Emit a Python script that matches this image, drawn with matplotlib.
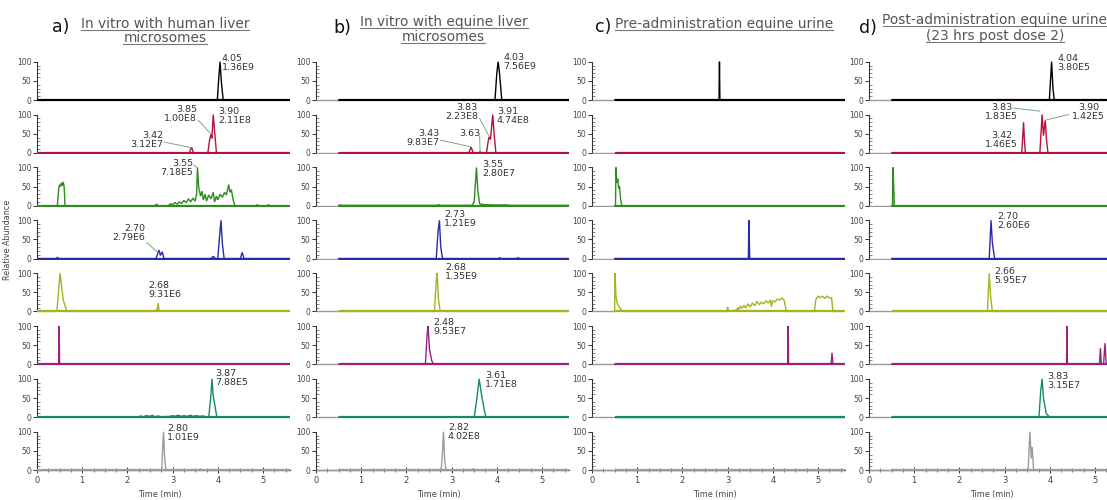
import matplotlib
matplotlib.use("Agg")
import matplotlib.pyplot as plt
from matplotlib.ticker import MultipleLocator, FixedLocator
from matplotlib.lines import Line2D

# ---------------------------------------------------------------- data
# Extracted-ion chromatograms: (time in min, relative abundance in %)

# a) in vitro, human liver microsomes
HUM_1 = [(0, 0), (3.99, 0), (4.02, 55), (4.05, 100), (4.08, 45), (4.12, 0), (5.6, 0)]
HUM_2 = [(0, 0), (3.37, 0), (3.42, 15), (3.46, 0), (3.78, 0), (3.82, 35), (3.85, 48),
         (3.87, 38), (3.90, 100), (3.93, 55), (3.97, 0), (5.6, 0)]
HUM_3 = [(0, 0), (0.45, 0), (0.48, 45), (0.50, 55), (0.52, 50), (0.54, 60), (0.56, 52),
         (0.58, 62), (0.60, 50), (0.62, 0), (2.60, 0), (2.65, 4), (2.68, 0), (2.90, 0),
         (2.95, 5), (3.00, 3), (3.05, 8), (3.10, 4), (3.15, 10), (3.20, 6), (3.25, 14),
         (3.30, 8), (3.35, 18), (3.40, 10), (3.45, 20), (3.50, 12), (3.53, 30), (3.55, 100),
         (3.58, 45), (3.62, 25), (3.65, 38), (3.68, 15), (3.72, 30), (3.75, 12), (3.80, 28),
         (3.85, 18), (3.90, 35), (3.93, 10), (3.97, 25), (4.00, 15), (4.05, 30), (4.10, 22),
         (4.15, 35), (4.19, 28), (4.24, 55), (4.27, 35), (4.30, 42), (4.34, 15), (4.38, 0),
         (4.85, 0), (4.87, 3), (4.90, 0), (5.10, 0), (5.12, 3), (5.15, 0), (5.6, 0)]
HUM_4 = [(0, 0), (0.42, 0), (0.45, 3), (0.48, 0), (2.63, 0), (2.70, 22), (2.73, 8),
         (2.77, 18), (2.81, 0), (3.85, 0), (3.90, 6), (3.95, 0), (4.00, 0), (4.04, 60),
         (4.07, 100), (4.10, 40), (4.14, 0), (4.50, 0), (4.54, 16), (4.58, 0), (5.6, 0)]
HUM_5 = [(0, 0), (0.44, 0), (0.51, 100), (0.58, 30), (0.66, 0), (2.60, 0), (2.66, 6),
         (2.68, 22), (2.70, 4), (2.74, 0), (3.0, 1), (3.5, 2), (4.0, 2), (4.5, 2),
         (5.0, 1), (5.6, 1)]
HUM_6 = [(0, 0), (0.48, 0), (0.49, 100), (0.495, 50), (0.50, 0), (5.6, 0)]
HUM_7 = [(0, 0), (2.20, 0), (2.30, 3), (2.35, 1), (2.42, 4), (2.50, 2), (2.55, 5),
         (2.60, 1), (2.68, 3), (2.75, 1), (2.95, 2), (3.00, 4), (3.05, 2), (3.12, 5),
         (3.20, 2), (3.25, 4), (3.32, 2), (3.40, 5), (3.45, 2), (3.52, 4), (3.60, 2),
         (3.68, 3), (3.75, 0), (3.80, 0), (3.85, 60), (3.87, 100), (3.90, 55), (3.95, 20),
         (3.98, 0), (5.6, 0)]
HUM_8 = [(0, 0), (2.76, 0), (2.78, 60), (2.80, 100), (2.82, 40), (2.85, 0), (3.60, 0),
         (3.62, 3), (3.64, 0), (5.6, 0)]

# b) in vitro, equine liver microsomes
EQ_1 = [(0.5, 0), (3.96, 0), (4.00, 70), (4.03, 100), (4.06, 70), (4.11, 0), (5.6, 0)]
EQ_2 = [(0.5, 0), (3.38, 0), (3.43, 15), (3.48, 0), (3.60, 0), (3.63, 3), (3.66, 0),
        (3.77, 0), (3.81, 30), (3.83, 42), (3.86, 35), (3.91, 100), (3.94, 50),
        (3.98, 0), (5.6, 0)]
EQ_3 = [(0.5, 0), (0.52, 2), (0.60, 1), (1.0, 1), (2.0, 1), (2.70, 1), (2.72, 3),
        (2.74, 1), (3.45, 1), (3.50, 10), (3.55, 100), (3.58, 40), (3.62, 5), (3.70, 3),
        (3.90, 2), (4.20, 2), (4.30, 1), (5.6, 1)]
EQ_4 = [(0.5, 0), (2.66, 0), (2.70, 70), (2.73, 100), (2.76, 30), (2.80, 0), (4.05, 0),
        (4.06, 3), (4.08, 0), (4.45, 0), (4.47, 3), (4.49, 0), (5.6, 0)]
EQ_5 = [(0.5, 0), (2.62, 0), (2.66, 80), (2.68, 100), (2.71, 30), (2.75, 0), (5.6, 0)]
EQ_6 = [(0.5, 0), (2.42, 0), (2.46, 80), (2.48, 100), (2.51, 40), (2.56, 10), (2.60, 0),
        (5.6, 0)]
EQ_7 = [(0.5, 0), (3.50, 0), (3.55, 40), (3.61, 100), (3.66, 60), (3.72, 20), (3.76, 0),
        (5.6, 0)]
EQ_8 = [(0.5, 0), (2.77, 0), (2.80, 50), (2.82, 100), (2.85, 20), (2.88, 0), (3.45, 0),
        (3.47, 4), (3.49, 0), (5.6, 0)]

# c) pre-administration equine urine
PRE_1 = [(0.5, 0), (2.81, 0), (2.82, 100), (2.825, 50), (2.83, 0), (5.6, 0)]
PRE_2 = [(0.5, 0), (5.6, 0)]
PRE_3 = [(0.5, 0), (0.52, 0), (0.53, 100), (0.55, 60), (0.57, 70), (0.59, 45),
         (0.61, 50), (0.63, 20), (0.66, 0), (5.6, 0)]
PRE_4 = [(0.5, 0), (3.46, 0), (3.47, 100), (3.48, 50), (3.49, 0), (5.6, 0)]
PRE_5 = [(0.5, 0), (0.51, 100), (0.53, 40), (0.56, 20), (0.60, 12), (0.64, 5), (0.68, 0),
         (2.98, 0), (3.00, 12), (3.02, 2), (3.20, 3), (3.22, 10), (3.25, 4), (3.28, 14),
         (3.32, 8), (3.36, 16), (3.40, 9), (3.45, 20), (3.50, 12), (3.55, 22), (3.60, 15),
         (3.65, 26), (3.70, 18), (3.75, 24), (3.80, 20), (3.85, 28), (3.90, 22), (3.95, 30),
         (3.97, 12), (4.00, 28), (4.05, 25), (4.10, 32), (4.15, 30), (4.20, 35), (4.25, 30),
         (4.30, 0), (4.92, 0), (4.95, 30), (5.00, 40), (5.05, 36), (5.10, 40), (5.15, 34),
         (5.20, 40), (5.25, 35), (5.30, 36), (5.33, 0), (5.6, 0)]
PRE_6 = [(0.5, 0), (4.33, 0), (4.34, 100), (4.345, 50), (4.35, 0), (5.29, 0), (5.31, 30),
         (5.33, 0), (5.6, 0)]
PRE_7 = [(0.5, 0), (5.6, 0)]
PRE_8 = [(0.5, 0), (5.6, 0)]

# d) post-administration equine urine (23 hrs post dose 2)
POST_1 = [(0.5, 0), (3.99, 0), (4.02, 60), (4.04, 100), (4.07, 30), (4.10, 0), (5.6, 0)]
POST_2 = [(0.5, 0), (3.38, 0), (3.40, 40), (3.42, 80), (3.44, 30), (3.46, 0), (3.78, 0),
          (3.81, 60), (3.83, 100), (3.86, 45), (3.90, 85), (3.93, 30), (3.96, 0), (5.6, 0)]
POST_3 = [(0.5, 0), (0.52, 0), (0.53, 100), (0.55, 40), (0.56, 0), (5.6, 0)]
POST_4 = [(0.5, 0), (2.66, 0), (2.70, 100), (2.73, 40), (2.78, 0), (5.6, 0)]
POST_5 = [(0.5, 0), (2.62, 0), (2.66, 100), (2.69, 40), (2.73, 0), (5.6, 0)]
POST_6 = [(0.5, 0), (4.37, 0), (4.38, 100), (4.385, 50), (4.39, 0), (5.10, 0), (5.12, 42),
          (5.14, 0), (5.19, 0), (5.22, 55), (5.25, 0), (5.6, 0)]
POST_7 = [(0.5, 0), (3.76, 0), (3.80, 70), (3.83, 100), (3.86, 50), (3.92, 10),
          (3.98, 2), (4.05, 0), (5.6, 0)]
POST_8 = [(0.5, 0), (3.52, 0), (3.56, 100), (3.59, 30), (3.61, 60), (3.64, 0), (5.6, 0)]

# Peak annotations: (row, retention time, peak area)
HUM_PEAKS = [(0, "4.05", "1.36E9"), (1, "3.85", "1.00E8"), (1, "3.90", "2.11E8"),
             (1, "3.42", "3.12E7"), (2, "3.55", "7.18E5"), (3, "2.70", "2.79E6"),
             (4, "2.68", "9.31E6"), (6, "3.87", "7.88E5"), (7, "2.80", "1.01E9")]
EQ_PEAKS = [(0, "4.03", "7.56E9"), (1, "3.83", "2.23E8"), (1, "3.91", "4.74E8"),
            (1, "3.43", "9.83E7"), (1, "3.63", None), (2, "3.55", "2.80E7"),
            (3, "2.73", "1.21E9"), (4, "2.68", "1.35E9"), (5, "2.48", "9.53E7"),
            (6, "3.61", "1.71E8"), (7, "2.82", "4.02E8")]
PRE_PEAKS = []
POST_PEAKS = [(0, "4.04", "3.80E5"), (1, "3.83", "1.83E5"), (1, "3.90", "1.42E5"),
              (1, "3.42", "1.46E5"), (3, "2.70", "2.60E6"), (4, "2.66", "5.95E7"),
              (6, "3.83", "3.15E7")]

PANEL_TITLES = [["In vitro with human liver", "microsomes"],
                ["In vitro with equine liver", "microsomes"],
                ["Pre-administration equine urine"],
                ["Post-administration equine urine", "(23 hrs post dose 2)"]]
PANEL_LETTERS = ["a)", "b)", "c)", "d)"]
X_TICKS = [0, 1, 2, 3, 4, 5]
Y_TICKS = [0, 50, 100]

# ---------------------------------------------------------------- layout
# label placement: (x, y, ha, leader line or None) in data units of each panel
HUM_LABEL_POS = [(4.09, 97, "left", None),
                 (3.54, 102, "right", ((3.57, 85), (3.84, 50))),
                 (4.00, 97, "left", None),
                 (2.79, 34, "right", ((2.81, 28), (3.41, 14))),
                 (3.45, 98, "right", ((3.47, 106), (3.54, 100))),
                 (2.39, 67, "right", ((2.43, 42), (2.69, 14))),
                 (2.46, 56, "left", None),
                 (3.94, 102, "left", None),
                 (2.88, 97, "left", None)]
EQ_LABEL_POS = [(4.14, 99, "left", None),
                (3.58, 107, "right", ((3.62, 90), (3.82, 45))),
                (4.00, 97, "left", None),
                (2.74, 39, "right", ((2.76, 33), (3.42, 16))),
                (3.63, 51, "right", ((3.62, 44), (3.63, 4))),
                (3.67, 96, "left", None),
                (2.83, 103, "left", None),
                (2.85, 103, "left", None),
                (2.59, 97, "left", None),
                (3.74, 97, "left", None),
                (2.92, 99, "left", None)]
PRE_LABEL_POS = []
POST_LABEL_POS = [(4.16, 97, "left", None),
                  (3.30, 107, "right", ((3.19, 117), (3.78, 109))),
                  (5.22, 107, "right", ((4.42, 100), (3.92, 86))),
                  (3.30, 34, "right", None),
                  (2.83, 98, "left", None),
                  (2.77, 92, "left", None),
                  (3.94, 94, "left", None)]

W, H = 1107, 500
PX_PER_MIN = 45.2
PX_PER_PCT = 0.383
ROW_BASE = [100 + 52.86 * i for i in range(8)]
COL_X0 = [37, 316, 592, 869]
X_SPAN = 5.6
Y_LO, Y_HI = -4, 134.4

COLORS = ["#000000", "#b5123a", "#2e8b1e", "#2a2aa8",
          "#a6b222", "#9c1f7e", "#138a6a", "#9a9a9a"]
LEADER = "#7aa886"
TXT = "#333333"

plt.rcParams["font.family"] = ["DejaVu Sans"]
fig = plt.figure(figsize=(W / 100, H / 100), dpi=100)


def fig_xy(x, y):
    return x / W, 1 - y / H


traces = [[HUM_1, HUM_2, HUM_3, HUM_4, HUM_5, HUM_6, HUM_7, HUM_8],
          [EQ_1, EQ_2, EQ_3, EQ_4, EQ_5, EQ_6, EQ_7, EQ_8],
          [PRE_1, PRE_2, PRE_3, PRE_4, PRE_5, PRE_6, PRE_7, PRE_8],
          [POST_1, POST_2, POST_3, POST_4, POST_5, POST_6, POST_7, POST_8]]
peaks = [HUM_PEAKS, EQ_PEAKS, PRE_PEAKS, POST_PEAKS]
label_pos = [HUM_LABEL_POS, EQ_LABEL_POS, PRE_LABEL_POS, POST_LABEL_POS]

axes = {}
for c in range(4):
    for r in range(8):
        base = ROW_BASE[r]
        bottom_px = base + (-Y_LO) * PX_PER_PCT
        h_px = (Y_HI - Y_LO) * PX_PER_PCT
        left = COL_X0[c] / W
        ax = fig.add_axes([left, 1 - bottom_px / H, X_SPAN * PX_PER_MIN / W, h_px / H])
        ax.set_xlim(0, X_SPAN)
        ax.set_ylim(Y_LO, Y_HI)
        ax.patch.set_alpha(0)
        for s in ("top", "right"):
            ax.spines[s].set_visible(False)
        ax.spines["left"].set_bounds(0, 100)
        ax.spines["left"].set_linewidth(0.8)
        ax.spines["left"].set_color("#333333")
        ax.yaxis.set_major_locator(FixedLocator(Y_TICKS))
        ax.yaxis.set_minor_locator(FixedLocator([v for v in range(10, 100, 10) if v != 50]))
        ax.tick_params(axis="y", which="major", direction="out", length=3, width=0.7,
                       labelsize=5.5, labelcolor="#444444", pad=1, color="#333333")
        ax.tick_params(axis="y", which="minor", direction="in", length=2, width=0.5,
                       color="#555555")
        ax.spines["bottom"].set_position(("data", 0))
        if r < 7:
            ax.spines["bottom"].set_visible(False)
            ax.tick_params(axis="x", which="both", bottom=False, labelbottom=False)
        else:
            ax.spines["bottom"].set_linewidth(0.9)
            ax.spines["bottom"].set_color("#333333")
            ax.xaxis.set_major_locator(FixedLocator(X_TICKS))
            ax.xaxis.set_minor_locator(MultipleLocator(0.25))
            ax.tick_params(axis="x", which="major", direction="inout", length=5, width=0.7,
                           labelsize=6, labelcolor="#444444", pad=2, color="#333333")
            ax.tick_params(axis="x", which="minor", direction="inout", length=3,
                           width=0.5, color="#444444")

        pts = traces[c][r]
        t = [p[0] for p in pts]
        y = [p[1] for p in pts]
        if t[0] > 0:
            ax.plot([0, t[0]], [0, 0], color="#9a9a9a", lw=1.0, zorder=3,
                    solid_capstyle="butt")
        ax.plot(t, y, color=COLORS[r], lw=1.0, zorder=4, solid_joinstyle="miter")
        ax.plot([t[0], t[-1]], [0, 0], color=COLORS[r], lw=1.6, zorder=3,
                solid_capstyle="butt")
        axes[(c, r)] = ax

    # peak labels
    for (row, rt, area), (lx, ly, ha, leader) in zip(peaks[c], label_pos[c]):
        ax = axes[(c, row)]
        s = rt if area is None else f"{rt}\n{area}"
        ax.text(lx, ly, s, ha=ha, va="center", fontsize=6.8, color=TXT,
                linespacing=1.05, multialignment="center" if c == 3 and row == 1 else ha,
                zorder=6, clip_on=False)
        if leader is not None:
            (x1, y1), (x2, y2) = leader
            ax.plot([x1, x2], [y1, y2], color=LEADER, lw=0.7, zorder=5, clip_on=False)

    # time axis caption
    fig.text(*fig_xy(COL_X0[c] + 2.72 * PX_PER_MIN, 495), "Time (min)",
             ha="center", va="center", fontsize=5.8, color="#444444")

fig.text(*fig_xy(8, 240), "Relative Abundance", rotation=90, ha="center",
         va="center", fontsize=5.8, color="#444444")

# panel titles with underlined captions
renderer = fig.canvas.get_renderer()


def underlined(x, y, s, ha="center"):
    t = fig.text(*fig_xy(x, y), s, ha=ha, va="center", fontsize=9.9, color="#555555")
    bb = t.get_window_extent(renderer=renderer)
    yl = bb.y0 + 1.5
    fig.add_artist(Line2D([bb.x0 / W, bb.x1 / W], [yl / H, yl / H],
                          transform=fig.transFigure, color="#777777", lw=0.8))


letter_xy = [(61, 27), (342, 28), (603, 27), (868, 28)]
title_xy = [[(165, 24, "center"), (165, 38, "center")],
            [(444, 22, "center"), (443, 37, "center")],
            [(615, 24, "left")],
            [(995, 20, "center"), (995, 36, "center")]]
for c in range(4):
    fig.text(*fig_xy(*letter_xy[c]), PANEL_LETTERS[c], ha="center", va="center",
             fontsize=12.5, color="#111111")
    for line, (x, y, ha) in zip(PANEL_TITLES[c], title_xy[c]):
        underlined(x, y, line, ha=ha)

fig.savefig("out.png", dpi=100)
